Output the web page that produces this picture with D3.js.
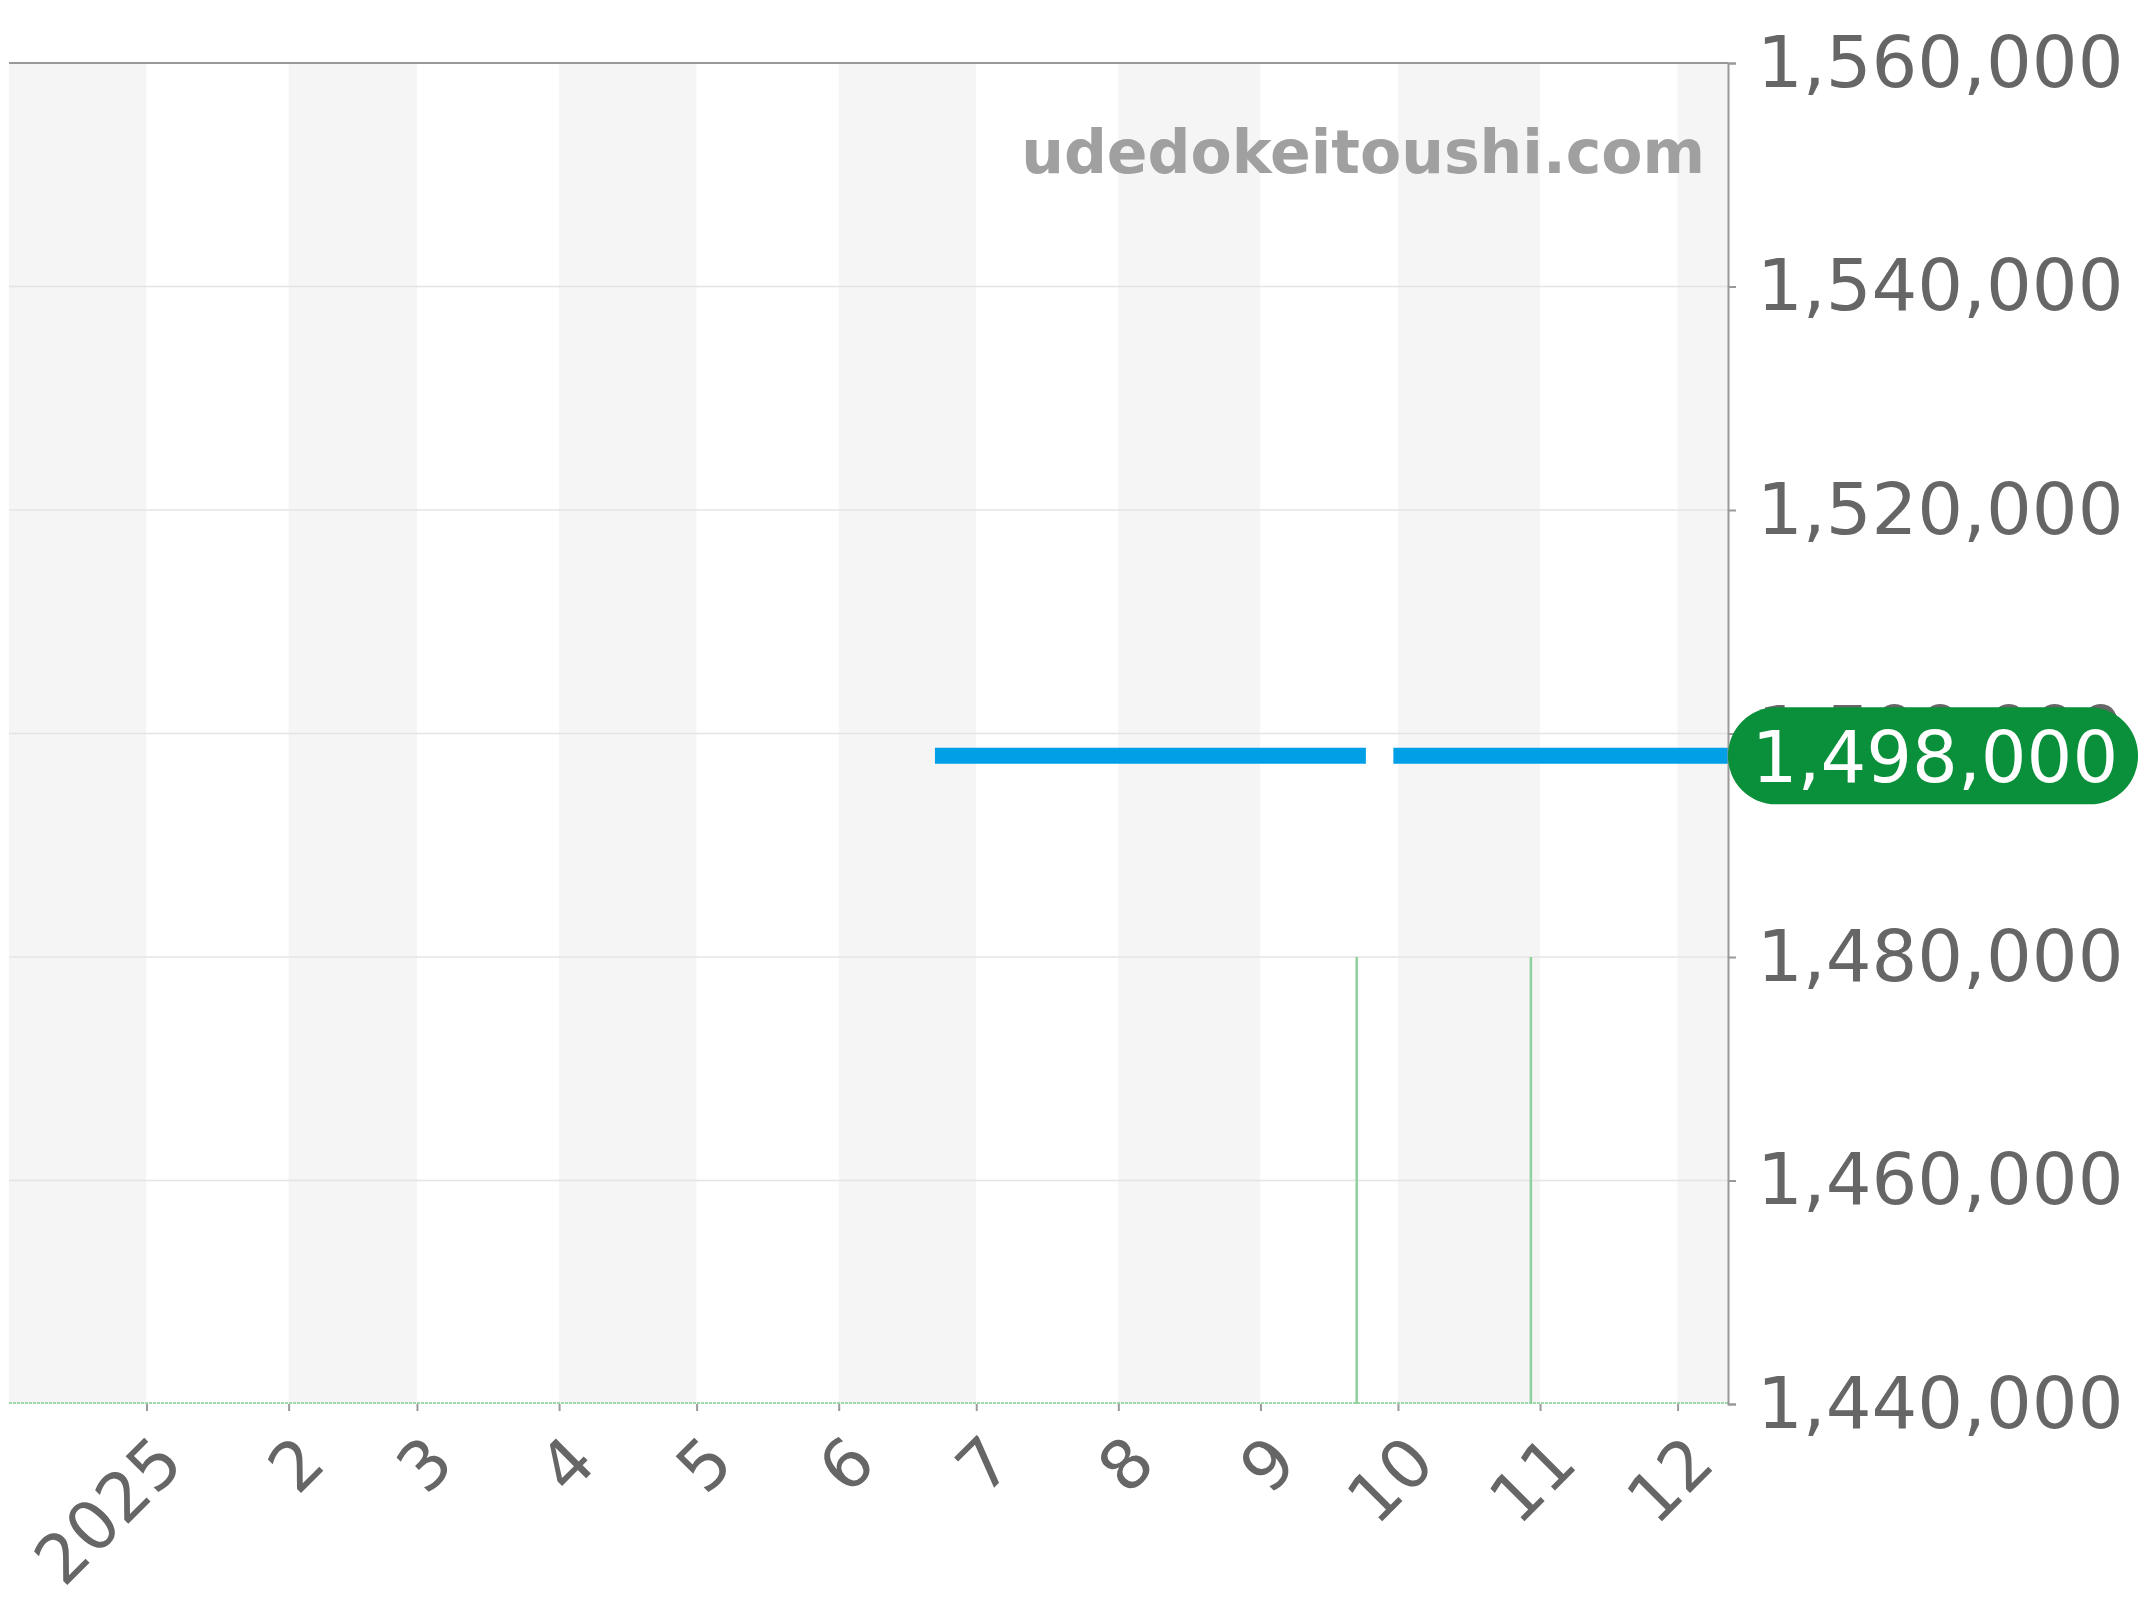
<!DOCTYPE html>
<html lang="ja">
<head>
  <meta charset="UTF-8">
  <title>price chart</title>
  <script src="https://cdn.jsdelivr.net/npm/d3@7"></script>
  <style>
    html, body { margin: 0; padding: 0; background: #fff; }
    svg text { font-family: "DejaVu Sans", sans-serif; }
  </style>
</head>
<body>
<svg id="chart"></svg>
<script>
  const width = 2144, height = 1600;

  // data
  const priceDates = ["2025-06-22", "2025-09-24", "2025-09-27", "2025-09-30", "2025-12-12"];
  const priceValues = [1498000, 1498000, null, 1498000, 1498000];
  const spikeDates = ["2025-09-22", "2025-10-30"];
  const spikeValues = [1480000, 1480000];
  const yTicks = [1440000, 1460000, 1480000, 1500000, 1520000, 1540000, 1560000];
  const lastPrice = 1498000;
  const watermark = "udedokeitoushi.com";

  const parse = d3.utcParse("%Y-%m-%d");
  const plotL = 9, plotR = 1728, plotT = 63, plotB = 1404;

  const x = d3.scaleUtc()
    .domain([parse("2024-12-02"), parse("2025-12-12")])
    .range([plotL, plotR]);
  const y = d3.scaleLinear()
    .domain([1440000, 1560000])
    .range([plotB, plotT]);

  const svg = d3.select("#chart").attr("width", width).attr("height", height);

  // alternating month bands
  const months = d3.utcMonth.range(d3.utcMonth.floor(x.domain()[0]), x.domain()[1]);
  svg.append("g").selectAll("rect")
    .data(months)
    .join("rect")
    .attr("x", d => Math.max(plotL, x(d)))
    .attr("y", plotT)
    .attr("width", d => Math.min(plotR, x(d3.utcMonth.offset(d, 1))) - Math.max(plotL, x(d)))
    .attr("height", plotB - plotT)
    .attr("fill", d => d.getUTCMonth() % 2 === 1 ? "#f5f5f5" : "#ffffff");

  // grid lines
  svg.append("g").selectAll("line")
    .data(yTicks.slice(1, -1))
    .join("line")
    .attr("x1", plotL).attr("x2", plotR)
    .attr("y1", d => y(d)).attr("y2", d => y(d))
    .attr("stroke", "#e4e4e4").attr("stroke-width", 1.5);

  // watermark
  svg.append("text")
    .attr("x", 1705).attr("y", 173)
    .attr("text-anchor", "end")
    .attr("font-size", 60).attr("font-weight", "bold")
    .attr("fill", "#a0a0a0")
    .text(watermark);

  // green series (mostly below the domain, clipped at the bottom)
  svg.append("line")
    .attr("x1", plotL).attr("x2", plotR)
    .attr("y1", plotB - 1).attr("y2", plotB - 1)
    .attr("stroke", "#9fd9aa").attr("stroke-width", 2)
    .attr("stroke-dasharray", "3,1");
  svg.append("g").selectAll("line")
    .data(spikeDates.map((d, i) => ({ date: parse(d), v: spikeValues[i] })))
    .join("line")
    .attr("x1", d => x(d.date)).attr("x2", d => x(d.date))
    .attr("y1", plotB).attr("y2", d => y(d.v))
    .attr("stroke", "#8dd19c").attr("stroke-width", 2.5);

  // price line
  const pts = priceDates.map((d, i) => ({ date: parse(d), v: priceValues[i] }));
  svg.append("path")
    .datum(pts)
    .attr("d", d3.line().defined(d => d.v != null).x(d => x(d.date)).y(d => y(d.v)))
    .attr("fill", "none")
    .attr("stroke", "#009fe6")
    .attr("stroke-width", 16);

  // frame
  svg.append("line")
    .attr("x1", plotL).attr("x2", plotR).attr("y1", plotT).attr("y2", plotT)
    .attr("stroke", "#999").attr("stroke-width", 2);

  // y axis on the right
  const yAxis = svg.append("g")
    .attr("transform", `translate(${plotR},0)`)
    .call(d3.axisRight(y).tickValues(yTicks).tickFormat(d3.format(",")).tickSize(8).tickPadding(21));
  yAxis.select(".domain").attr("stroke", "#999").attr("stroke-width", 2);
  yAxis.selectAll(".tick line").attr("stroke", "#999").attr("stroke-width", 2);
  yAxis.selectAll(".tick text")
    .attr("font-size", 72).attr("fill", "#666").attr("font-family", "DejaVu Sans");

  // x axis
  const xAxis = svg.append("g")
    .attr("transform", `translate(0,${plotB})`)
    .call(d3.axisBottom(x)
      .ticks(d3.utcMonth.every(1))
      .tickFormat(d => d.getUTCMonth() === 0 ? d3.utcFormat("%Y")(d) : String(d.getUTCMonth() + 1))
      .tickSize(7).tickPadding(10));
  xAxis.select(".domain").remove();
  xAxis.selectAll(".tick line").attr("stroke", "#999").attr("stroke-width", 2);
  xAxis.selectAll(".tick text")
    .attr("font-size", 68).attr("fill", "#666").attr("font-family", "DejaVu Sans")
    .attr("text-anchor", "end")
    .attr("dy", null)
    .attr("transform", "translate(27,50) rotate(-45)");

  // last price badge
  const badge = svg.append("g").attr("transform", `translate(${plotR},${y(lastPrice)})`);
  badge.append("rect")
    .attr("x", 0).attr("y", -48.5)
    .attr("width", 410).attr("height", 97)
    .attr("rx", 48).attr("fill", "#0a8f3b");
  badge.append("text")
    .attr("x", 207).attr("y", 0)
    .attr("dy", "0.36em")
    .attr("text-anchor", "middle")
    .attr("font-size", 72).attr("fill", "#fff")
    .text(d3.format(",")(lastPrice));
</script>
</body>
</html>
